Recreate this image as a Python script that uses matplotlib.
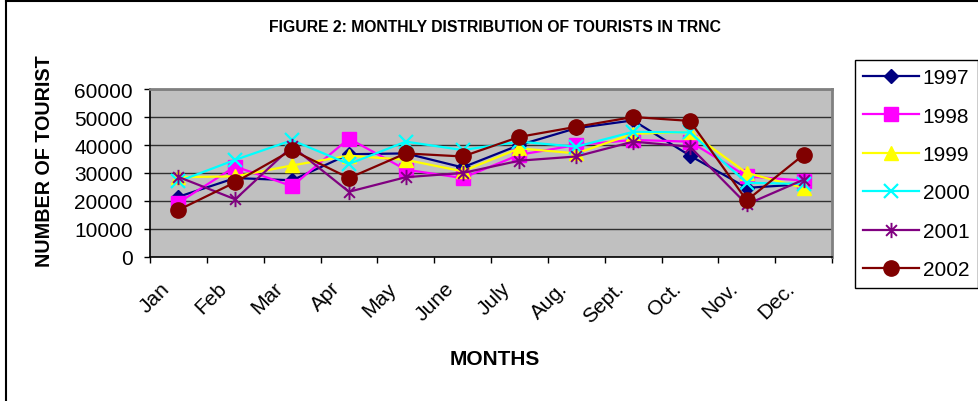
import numpy as np
import matplotlib
matplotlib.use("Agg")
import matplotlib.pyplot as plt
import matplotlib.transforms as mtransforms
from matplotlib.path import Path
from matplotlib.lines import Line2D

plt.rcParams["font.family"] = ["Liberation Sans", "DejaVu Sans"]

months = ["Jan", "Feb", "Mar", "Apr", "May", "June", "July",
          "Aug.", "Sept.", "Oct.", "Nov.", "Dec."]

y1997 = [21500, 28200, 27400, 36700, 37000, 32000, 40000, 46000, 48800, 36200, 24700, 26000]
y1998 = [19400, 32300, 25300, 42300, 31200, 28200, 36500, 40000, 41800, 41200, 28800, 27300]
y1999 = [28500, 28800, 32700, 36200, 34700, 30600, 38800, 37000, 44000, 44700, 30000, 24700]
y2000 = [27000, 34700, 41700, 33200, 41200, 38200, 41200, 39400, 44700, 44500, 26500, 26100]
y2001 = [28600, 20600, 39500, 23300, 28500, 30000, 34400, 35900, 41200, 39400, 18800, 27600]
y2002 = [16800, 26700, 38200, 28200, 37000, 35900, 42900, 46500, 50000, 48600, 20200, 36500]

years = ["1997", "1998", "1999", "2000", "2001", "2002"]
series = [y1997, y1998, y1999, y2000, y2001, y2002]

# Excel style asterisk: X plus a vertical bar
c45 = np.sqrt(0.5)
star = Path(
    [(-c45, -c45), (c45, c45), (-c45, c45), (c45, -c45), (0, -1), (0, 1)],
    [Path.MOVETO, Path.LINETO, Path.MOVETO, Path.LINETO, Path.MOVETO, Path.LINETO],
)

styles = [
    dict(color="#000080", marker="D", ms=7),
    dict(color="#FF00FF", marker="s", ms=10),
    dict(color="#FFFF00", marker="^", ms=10),
    dict(color="#00FFFF", marker="x", ms=10, mew=1.6),
    dict(color="#800080", marker=star, ms=11, mew=1.4),
    dict(color="#800000", marker="o", ms=11),
]

W, H = 979, 402
fig = plt.figure(figsize=(W / 100, H / 100), dpi=100)
ax = fig.add_axes([150 / W, 1 - 258 / H, (832 - 150) / W, (258 - 90) / H])
ax.set_facecolor("#C0C0C0")

x = np.arange(len(months))
for yr, vals, st in zip(years, series, styles):
    ax.plot(x, vals, color=st["color"], lw=1.6, marker=st["marker"],
            markersize=st["ms"], markerfacecolor=st["color"],
            markeredgecolor=st["color"], markeredgewidth=st.get("mew", 1),
            label=yr, clip_on=False)

ax.set_xlim(-0.5, len(months) - 0.5)
ax.set_ylim(0, 60000)
ax.set_yticks(np.arange(0, 60001, 10000))
ax.yaxis.grid(True, color="#303030", lw=1)
ax.set_axisbelow(True)

ax.set_xticks(x)
ax.set_xticklabels(months, rotation=45, ha="right", va="center",
                   rotation_mode="anchor", fontsize=15)
ax.tick_params(axis="x", length=0, pad=20)
shift = mtransforms.ScaledTranslation(-12 / 100, 0, fig.dpi_scale_trans)
for lab in ax.get_xticklabels():
    lab.set_transform(lab.get_transform() + shift)
ax.set_xticks(np.arange(-0.5, len(months)), minor=True)
ax.tick_params(axis="x", which="minor", length=4, width=1)
ax.tick_params(axis="y", length=4, width=1, labelsize=15, pad=8.5)

for s in ["left", "bottom"]:
    ax.spines[s].set_color("black")
    ax.spines[s].set_linewidth(1.2)
for s in ["top", "right"]:
    ax.spines[s].set_color("#808080")
    ax.spines[s].set_linewidth(2)

fig.text(495 / W, 1 - 360 / H, "MONTHS", fontsize=15, fontweight="bold",
         ha="center", va="center")
fig.text(45 / W, 1 - 161 / H, "NUMBER OF TOURIST", rotation=90, fontsize=14.2,
         fontweight="bold", ha="center", va="center")
fig.text(495 / W, 1 - 27 / H, "FIGURE 2: MONTHLY DISTRIBUTION OF TOURISTS IN TRNC",
         fontsize=11.3, fontweight="bold", ha="center", va="center")

leg = fig.legend(loc="upper left", bbox_to_anchor=(855 / W, 1 - 61 / H),
                 borderaxespad=0, fontsize=15, handlelength=2.65,
                 handletextpad=0.2, labelspacing=0.93, borderpad=0.4,
                 fancybox=False, framealpha=1, edgecolor="black")
leg.get_frame().set_linewidth(1)

# outer chart border (top and left)
fig.add_artist(Line2D([6.5 / W, 6.5 / W], [0, 1], color="black", lw=1.5))
fig.add_artist(Line2D([6.5 / W, 1], [1 - 1.5 / H, 1 - 1.5 / H], color="black", lw=1.5))

fig.savefig("out.png", dpi=100)
